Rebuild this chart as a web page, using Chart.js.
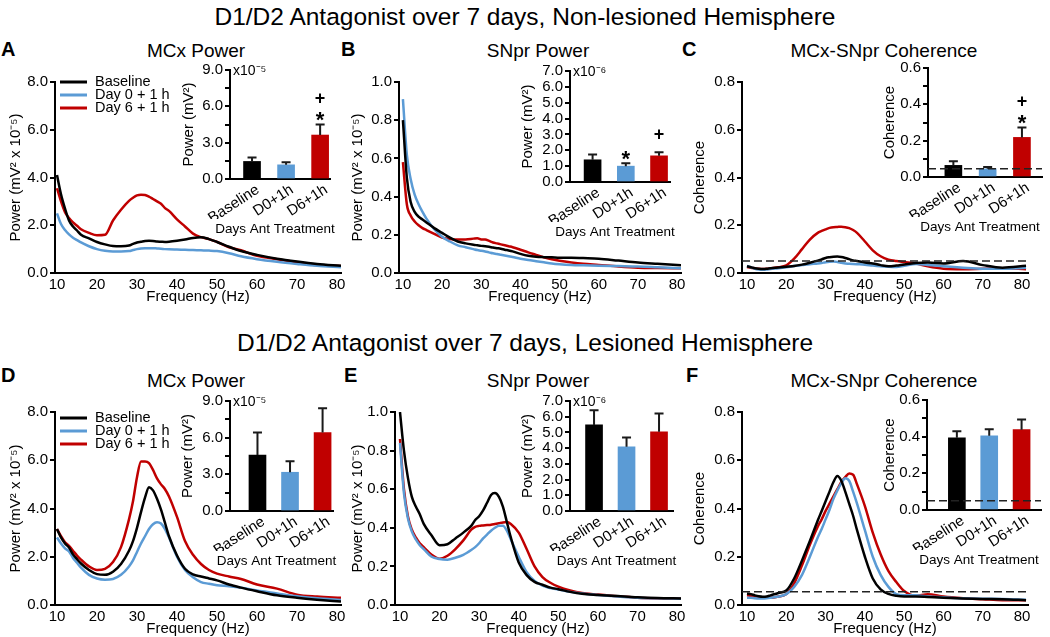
<!DOCTYPE html>
<html>
<head>
<meta charset="utf-8">
<script src="https://cdn.jsdelivr.net/npm/chart.js@4.4.1/dist/chart.umd.min.js"></script>
<style>
body{margin:0;background:#fff;overflow:hidden}
#fig{position:relative;width:1050px;height:637px;font-family:'Liberation Sans',Arial,sans-serif;color:#000;overflow:hidden}
#fig canvas{position:absolute}
.t{position:absolute;white-space:nowrap;line-height:1}
.head{left:0;width:1050px;text-align:center;font-size:24.5px}
.tag{font-size:20px;font-weight:bold}
.pt{font-size:19px;transform:translateX(-50%)}
</style>
</head>
<body>
<div id="fig">
  <div class="t head" style="top:5px">D1/D2 Antagonist over 7 days, Non-lesioned Hemisphere</div>
  <div class="t tag" style="left:1px;top:39px">A</div>
  <div class="t tag" style="left:341px;top:39px">B</div>
  <div class="t tag" style="left:682px;top:39px">C</div>
  <div class="t pt" style="left:196px;top:41px">MCx Power</div>
  <div class="t pt" style="left:538px;top:41px">SNpr Power</div>
  <div class="t pt" style="left:884px;top:41px">MCx-SNpr Coherence</div>

  <div class="t head" style="top:331px">D1/D2 Antagonist over 7 days, Lesioned Hemisphere</div>
  <div class="t tag" style="left:1px;top:365px">D</div>
  <div class="t tag" style="left:344px;top:365px">E</div>
  <div class="t tag" style="left:686px;top:365px">F</div>
  <div class="t pt" style="left:196px;top:371px">MCx Power</div>
  <div class="t pt" style="left:538px;top:371px">SNpr Power</div>
  <div class="t pt" style="left:884px;top:371px">MCx-SNpr Coherence</div>
</div>
<script>
// frequencies (Hz) the spectra are sampled at
const FREQ = [10,11,12,13,14,15,16,18,20,22,24,26,28,29,30,31,32,33,34,35,36,37,38,40,42,44,46,48,50,53,56,60,65,70,75,81];
const FREQ_TICKS = [10,20,30,40,50,60,70,80];
const GROUPS = ['Baseline', 'Day 0 + 1 h', 'Day 6 + 1 h'];
const BAR_LABELS = ['Baseline', 'D0+1h', 'D6+1h'];
const COLORS = ['#000000', '#5b9bd5', '#c00000'];

// A - MCx power, non-lesioned (mV2 x 1e-5)
const mcxNL_base = [4.1,3.3,2.7,2.2,1.95,1.78,1.6,1.45,1.3,1.2,1.13,1.12,1.15,1.22,1.28,1.31,1.34,1.35,1.34,1.32,1.31,1.3,1.31,1.35,1.4,1.47,1.5,1.42,1.3,1.1,0.92,0.76,0.6,0.48,0.38,0.3];
const mcxNL_d0   = [2.5,2.05,1.8,1.62,1.48,1.38,1.28,1.12,1.0,0.93,0.9,0.9,0.92,0.96,1.0,1.03,1.04,1.04,1.04,1.03,1.02,1.0,0.99,0.98,0.97,0.96,0.95,0.94,0.92,0.83,0.7,0.58,0.47,0.38,0.3,0.24];
const mcxNL_d6   = [3.55,3.0,2.55,2.3,2.12,1.98,1.83,1.68,1.58,1.6,2.2,2.65,3.02,3.15,3.25,3.28,3.27,3.2,3.1,3.0,2.9,2.72,2.6,2.25,1.95,1.65,1.5,1.42,1.3,1.08,0.95,0.72,0.58,0.45,0.33,0.29];
// B - SNpr power, non-lesioned
const snNL_base = [0.8,0.5,0.37,0.32,0.295,0.28,0.265,0.235,0.21,0.185,0.165,0.155,0.148,0.145,0.142,0.14,0.137,0.133,0.13,0.127,0.122,0.118,0.113,0.1,0.09,0.085,0.083,0.082,0.08,0.08,0.078,0.075,0.065,0.055,0.048,0.04];
const snNL_d0   = [0.91,0.62,0.49,0.41,0.36,0.32,0.285,0.23,0.19,0.165,0.145,0.135,0.125,0.12,0.117,0.113,0.108,0.103,0.1,0.096,0.092,0.088,0.084,0.075,0.068,0.062,0.056,0.05,0.046,0.042,0.04,0.038,0.036,0.034,0.03,0.025];
const snNL_d6   = [0.58,0.36,0.3,0.27,0.25,0.235,0.225,0.205,0.185,0.178,0.175,0.176,0.18,0.182,0.176,0.175,0.168,0.16,0.155,0.15,0.145,0.14,0.135,0.122,0.108,0.095,0.082,0.072,0.064,0.055,0.048,0.042,0.034,0.028,0.026,0.025];
// C - MCx-SNpr coherence, non-lesioned
const cohNL_base = [0.028,0.024,0.02,0.018,0.017,0.018,0.02,0.023,0.026,0.029,0.035,0.043,0.052,0.057,0.063,0.066,0.068,0.069,0.067,0.063,0.058,0.053,0.05,0.044,0.04,0.033,0.028,0.031,0.036,0.042,0.044,0.04,0.05,0.033,0.022,0.03];
const cohNL_d0   = [0.03,0.024,0.018,0.015,0.014,0.015,0.017,0.02,0.024,0.029,0.033,0.037,0.04,0.042,0.045,0.047,0.048,0.046,0.043,0.04,0.039,0.038,0.037,0.035,0.031,0.028,0.026,0.025,0.03,0.038,0.034,0.028,0.022,0.018,0.018,0.022];
const cohNL_d6   = [0.025,0.022,0.02,0.018,0.017,0.018,0.02,0.024,0.032,0.06,0.1,0.14,0.168,0.176,0.183,0.189,0.192,0.193,0.194,0.192,0.188,0.18,0.168,0.132,0.095,0.07,0.056,0.05,0.046,0.04,0.028,0.018,0.016,0.018,0.02,0.016];
// D - MCx power, lesioned
const mcxL_base = [3.15,2.8,2.55,2.38,2.1,1.9,1.72,1.45,1.28,1.25,1.38,1.7,2.25,2.65,3.2,3.85,4.45,4.88,4.75,4.4,3.95,3.4,2.85,2.05,1.5,1.27,1.18,1.1,1.02,0.85,0.72,0.57,0.4,0.3,0.22,0.14];
const mcxL_d0   = [2.8,2.55,2.35,2.22,1.95,1.75,1.55,1.25,1.1,1.05,1.08,1.25,1.6,1.85,2.2,2.55,2.85,3.15,3.35,3.43,3.38,3.15,2.8,2.0,1.45,1.15,0.95,0.88,0.82,0.78,0.72,0.6,0.48,0.36,0.28,0.21];
const mcxL_d6   = [3.15,2.85,2.6,2.45,2.25,2.05,1.88,1.6,1.45,1.5,1.78,2.4,3.55,4.3,5.3,5.95,5.95,5.88,5.6,5.25,5.0,4.8,4.5,3.65,2.65,2.08,1.7,1.45,1.3,1.18,1.08,0.85,0.68,0.43,0.35,0.3];
// E - SNpr power, lesioned
const snL_base = [1.0,0.8,0.66,0.56,0.51,0.47,0.42,0.36,0.31,0.315,0.345,0.375,0.41,0.44,0.46,0.49,0.53,0.57,0.58,0.56,0.51,0.43,0.35,0.22,0.155,0.12,0.105,0.09,0.082,0.068,0.058,0.052,0.046,0.04,0.036,0.034];
const snL_d0   = [0.84,0.58,0.45,0.38,0.34,0.31,0.29,0.25,0.238,0.235,0.245,0.26,0.285,0.3,0.32,0.345,0.365,0.385,0.4,0.41,0.41,0.385,0.34,0.25,0.17,0.125,0.1,0.088,0.08,0.068,0.06,0.052,0.044,0.038,0.035,0.033];
const snL_d6   = [0.86,0.6,0.46,0.39,0.35,0.32,0.3,0.26,0.24,0.255,0.29,0.335,0.39,0.405,0.41,0.412,0.414,0.416,0.42,0.424,0.428,0.43,0.42,0.375,0.29,0.2,0.145,0.115,0.095,0.075,0.062,0.054,0.045,0.038,0.035,0.034];
// F - MCx-SNpr coherence, lesioned
const cohL_base = [0.048,0.045,0.04,0.036,0.034,0.035,0.04,0.05,0.06,0.11,0.185,0.265,0.35,0.39,0.43,0.47,0.51,0.535,0.515,0.47,0.42,0.37,0.31,0.2,0.11,0.065,0.046,0.038,0.035,0.035,0.033,0.03,0.027,0.025,0.024,0.02];
const cohL_d0   = [0.03,0.03,0.028,0.027,0.027,0.028,0.03,0.035,0.045,0.075,0.125,0.2,0.28,0.315,0.355,0.395,0.44,0.475,0.505,0.525,0.515,0.47,0.42,0.31,0.2,0.125,0.075,0.045,0.04,0.04,0.035,0.032,0.028,0.026,0.025,0.022];
const cohL_d6   = [0.04,0.038,0.035,0.032,0.03,0.03,0.03,0.035,0.045,0.09,0.165,0.25,0.325,0.355,0.39,0.42,0.45,0.48,0.51,0.53,0.545,0.54,0.5,0.41,0.3,0.21,0.14,0.095,0.058,0.038,0.045,0.035,0.028,0.024,0.02,0.02];
// significance threshold for coherence
const cohLimitNL = 0.05, cohLimitL = 0.055;
const cohBarLimitNL = 0.045, cohBarLimitL = 0.05;

// inset bars: mean and SEM per group
const barMcxNL = [1.45, 1.17, 3.63],  semMcxNL = [0.32, 0.22, 0.87];
const barSnNL  = [1.4, 1.0, 1.65],    semSnNL  = [0.33, 0.19, 0.23];
const barCohNL = [0.064, 0.045, 0.218], semCohNL = [0.023, 0.01, 0.055];
const barMcxL  = [4.58, 3.17, 6.42],  semMcxL  = [1.84, 0.9, 1.98];
const barSnL   = [5.48, 4.09, 5.04],  semSnL   = [0.93, 0.59, 1.16];
const barCohL  = [0.394, 0.405, 0.438], semCohL = [0.036, 0.036, 0.056];
const starMcxNL = ['', '', '*'], plusMcxNL = ['', '', '+'];
const starSnNL  = ['', '*', ''], plusSnNL  = ['', '', '+'];
const starCohNL = ['', '', '*'], plusCohNL = ['', '', '+'];
const none = ['', '', ''];

const FONT = "'Liberation Sans', Arial, sans-serif";
Chart.defaults.font.family = FONT;
Chart.defaults.font.size = 15;
Chart.defaults.color = '#000';
Chart.defaults.animation = false;
Chart.defaults.events = [];
Chart.defaults.plugins.legend.display = false;
Chart.defaults.plugins.tooltip.enabled = false;

// dashed threshold line
const refLine = {
  id: 'refLine',
  afterDatasetsDraw(chart, args, o) {
    if (o.value == null) return;
    const {ctx, chartArea: a, scales: {y}} = chart;
    const py = y.getPixelForValue(o.value);
    ctx.save();
    ctx.setLineDash([8, 4]);
    ctx.lineWidth = 1.5;
    ctx.strokeStyle = '#222';
    ctx.beginPath(); ctx.moveTo(a.left, py); ctx.lineTo(a.right, py); ctx.stroke();
    ctx.restore();
  }
};

// key drawn inside the plot, top left
const keyPlugin = {
  id: 'key',
  afterDraw(chart, args, o) {
    if (!o.show) return;
    const {ctx, chartArea: a} = chart;
    ctx.save();
    ctx.font = '14.5px ' + FONT;
    ctx.textBaseline = 'middle';
    chart.data.datasets.forEach((d, i) => {
      const y = a.top + o.dy + i * 13;
      ctx.strokeStyle = d.borderColor; ctx.lineWidth = 3;
      ctx.beginPath(); ctx.moveTo(a.left + 5, y); ctx.lineTo(a.left + 32, y); ctx.stroke();
      ctx.fillStyle = '#000';
      ctx.fillText(d.label, a.left + 40, y);
    });
    ctx.restore();
  }
};

// error bars, significance marks, exponent and x caption for insets
const barsPlugin = {
  id: 'bars',
  afterDatasetsDraw(chart, args, o) {
    if (!o.sem) return;
    const {ctx, scales: {x, y}} = chart;
    ctx.save();
    chart.data.datasets[0].data.forEach((p, i) => {
      const px = x.getPixelForValue(p.x);
      const y0 = y.getPixelForValue(p.y), y1 = y.getPixelForValue(p.y + o.sem[i]);
      ctx.strokeStyle = '#1a1a1a'; ctx.lineWidth = 2;
      ctx.beginPath(); ctx.moveTo(px, y0); ctx.lineTo(px, y1);
      ctx.moveTo(px - 4.5, y1); ctx.lineTo(px + 4.5, y1); ctx.stroke();
      ctx.fillStyle = '#000';
      ctx.textAlign = 'center'; ctx.textBaseline = 'alphabetic';
      if (o.stars[i]) {
        ctx.font = 'bold 22px ' + FONT;
        ctx.fillText(o.stars[i], px, y1 - 10 + 12.5);
      }
      if (o.plus[i]) {
        ctx.font = 'bold 18px ' + FONT;
        ctx.fillText(o.plus[i], px, y1 - (o.stars[i] ? 27 : 19) + 6.5);
      }
    });
    ctx.restore();
  },
  afterDraw(chart, args, o) {
    if (!o.caption) return;
    const {ctx, chartArea: a} = chart;
    ctx.save();
    ctx.fillStyle = '#000';
    ctx.textBaseline = 'middle';
    if (o.expo) {
      ctx.font = '14px ' + FONT; ctx.textAlign = 'left';
      ctx.fillText(o.expo, a.left + 3, a.top + 1);
    }
    ctx.font = '13.5px ' + FONT; ctx.textAlign = 'center';
    ctx.fillText(o.caption, (a.left + a.right) / 2 - 5, a.bottom + 50);
    ctx.restore();
  }
};
Chart.register(refLine, keyPlugin, barsPlugin);

const fig = document.getElementById('fig');
function addCanvas(left, top, w, h) {
  const c = document.createElement('canvas');
  w = Math.round(w); h = Math.round(h);
  c.width = w; c.height = h;
  c.style.left = left + 'px'; c.style.top = top + 'px';
  c.style.width = w + 'px'; c.style.height = h + 'px';
  fig.appendChild(c);
  return c;
}

function yAxis(yMax, step, labStep, title, width) {
  return {
    type: 'linear', min: 0, max: yMax,
    afterFit: s => { s.width = width; },
    ticks: {
      stepSize: step, padding: 2, autoSkip: false,
      callback: v => {
        const k = v / labStep;
        return Math.abs(k - Math.round(k)) < 1e-6 ? v.toFixed(1) : '';
      }
    },
    grid: { drawOnChartArea: false, drawTicks: true, tickLength: 5, color: '#000', lineWidth: 2 },
    border: { color: '#000', width: 2 },
    title: { display: true, text: title, padding: { top: 6, bottom: 0 } }
  };
}

// main spectrum / coherence plot
function spectrum(g, series, yMax, yStep, yTitle, extra) {
  const left = g.tx - 15, YW = g.l - left, TP = 10, XH = 35, RP = 8;
  const w = (g.xMax - g.xMin) * g.pxHz, h = g.b - g.t;
  const cv = addCanvas(left, g.t - TP, YW + w + RP, TP + h + XH);
  new Chart(cv, {
    type: 'line',
    data: {
      datasets: series.map((s, i) => ({
        label: GROUPS[i],
        data: FREQ.map((f, k) => ({ x: f, y: s[k] })),
        borderColor: COLORS[i], backgroundColor: COLORS[i],
        borderWidth: 2.5, pointRadius: 0, cubicInterpolationMode: 'monotone'
      }))
    },
    options: {
      responsive: false, devicePixelRatio: 1,
      layout: { padding: { top: TP, right: RP, bottom: 0, left: 0 } },
      scales: {
        x: {
          type: 'linear', min: g.xMin, max: g.xMax,
          afterFit: s => { s.height = XH; },
          afterBuildTicks: s => { s.ticks = FREQ_TICKS.map(v => ({ value: v })); },
          ticks: { padding: 3, maxRotation: 0, autoSkip: false },
          grid: { drawOnChartArea: false, drawTicks: false },
          border: { color: '#000', width: 2 },
          title: { display: true, text: 'Frequency (Hz)', padding: { top: 0, bottom: 2 } }
        },
        y: yAxis(yMax, yStep, yStep, yTitle, YW)
      },
      plugins: {
        key: { show: !!extra.key, dy: extra.keyDy || 0 },
        refLine: { value: extra.ref }
      }
    }
  });
}

// inset bar chart
function inset(g, means, sem, stars, plus, yMax, yStep, labStep, yTitle, expo, ref) {
  const left = g.tx - 15, YW = g.l - left, TP = 10, XH = 40, BP = 25, RP = 12;
  const w = (g.xMax - g.xMin) * g.px, h = g.b - g.t;
  const cv = addCanvas(left, g.t - TP, YW + w + RP, TP + h + XH + BP);
  new Chart(cv, {
    type: 'bar',
    data: {
      datasets: [{
        data: means.map((m, i) => ({ x: i + 1, y: m })),
        backgroundColor: COLORS, borderWidth: 0, barThickness: 17
      }]
    },
    options: {
      responsive: false, devicePixelRatio: 1,
      layout: { padding: { top: TP, right: RP, bottom: BP, left: 0 } },
      scales: {
        x: {
          type: 'linear', offset: false, min: g.xMin, max: g.xMax,
          afterFit: s => { s.height = XH; },
          afterBuildTicks: s => { s.ticks = BAR_LABELS.map((_, i) => ({ value: i + 1 })); },
          ticks: {
            callback: v => BAR_LABELS[Math.round(v) - 1],
            minRotation: 33, maxRotation: 33, autoSkip: false, padding: 2, labelOffset: 6
          },
          grid: { drawOnChartArea: false, drawTicks: false },
          border: { color: '#000', width: 2 }
        },
        y: yAxis(yMax, yStep, labStep, yTitle, YW)
      },
      plugins: {
        bars: { sem, stars, plus, expo, caption: 'Days Ant Treatment' },
        refLine: { value: ref }
      }
    }
  });
}

const PW = 'Power (mV\u00b2 x 10\u207b\u2075)';
const PWI = 'Power (mV\u00b2)';

spectrum({ l: 55, t: 81, b: 273, xMin: 9.5, xMax: 81, pxHz: 4, tx: 16 },
  [mcxNL_base, mcxNL_d0, mcxNL_d6], 8, 2, PW, { key: true, keyDy: 0 });
spectrum({ l: 399, t: 81, b: 273, xMin: 9, xMax: 81, pxHz: 3.914, tx: 358 },
  [snNL_base, snNL_d0, snNL_d6], 1, 0.2, PW, {});
spectrum({ l: 742, t: 81, b: 273, xMin: 8.73, xMax: 81.5, pxHz: 3.929, tx: 700 },
  [cohNL_base, cohNL_d0, cohNL_d6], 0.8, 0.2, 'Coherence', { ref: cohLimitNL });
spectrum({ l: 55, t: 411, b: 605, xMin: 9.5, xMax: 81, pxHz: 4, tx: 16 },
  [mcxL_base, mcxL_d0, mcxL_d6], 8, 2, PW, { key: true, keyDy: 6 });
spectrum({ l: 395, t: 411, b: 605, xMin: 8.74, xMax: 81, pxHz: 3.957, tx: 358 },
  [snL_base, snL_d0, snL_d6], 1, 0.2, PW, {});
spectrum({ l: 742, t: 411, b: 605, xMin: 8.73, xMax: 81.5, pxHz: 3.929, tx: 700 },
  [cohL_base, cohL_d0, cohL_d6], 0.8, 0.2, 'Coherence', { ref: cohLimitL });

inset({ l: 230, t: 69, b: 179, xMin: 0.353, xMax: 3.29, px: 34, tx: 189 },
  barMcxNL, semMcxNL, starMcxNL, plusMcxNL, 9, 1.5, 3, PWI, 'x10\u207b\u2075');
inset({ l: 570, t: 70, b: 182, xMin: 0.32, xMax: 3.33, px: 33.25, tx: 528 },
  barSnNL, semSnNL, starSnNL, plusSnNL, 7, 1, 1, PWI, 'x10\u207b\u2076');
inset({ l: 928, t: 67, b: 177, xMin: 0.26, xMax: 3.585, px: 34.2, tx: 890 },
  barCohNL, semCohNL, starCohNL, plusCohNL, 0.6, 0.1, 0.2, 'Coherence', '', cohBarLimitNL);
inset({ l: 230, t: 400, b: 511, xMin: 0.156, xMax: 3.32, px: 32.6, tx: 188 },
  barMcxL, semMcxL, none, none, 9, 1.5, 3, PWI, 'x10\u207b\u2075');
inset({ l: 570, t: 400, b: 511, xMin: 0.26, xMax: 3.43, px: 32.5, tx: 528 },
  barSnL, semSnL, none, none, 7, 1, 1, PWI, 'x10\u207b\u2076');
inset({ l: 927, t: 399, b: 510, xMin: 0.077, xMax: 3.6, px: 32.5, tx: 890 },
  barCohL, semCohL, none, none, 0.6, 0.1, 0.2, 'Coherence', '', cohBarLimitL);
</script>
</body>
</html>
